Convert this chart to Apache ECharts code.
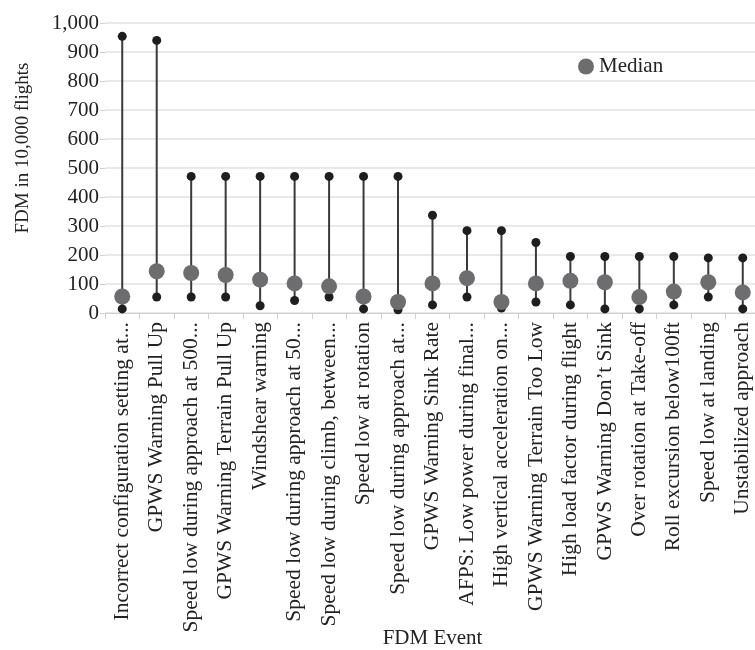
<!DOCTYPE html>
<html>
<head>
<meta charset="utf-8">
<title>FDM events</title>
<script src="https://cdn.jsdelivr.net/npm/echarts@6/dist/echarts.min.js"></script>
<style>
  body { margin: 0; background: #fff; }
  #main { width: 755px; height: 650px; }
</style>
</head>
<body>
<div id="main"></div>
<script>
var events = [
  'Incorrect configuration setting at...',
  'GPWS Warning Pull Up',
  'Speed low during approach at 500...',
  'GPWS Warning Terrain Pull Up',
  'Windshear warning',
  'Speed low during approach at 50...',
  'Speed low during climb, between...',
  'Speed low at rotation',
  'Speed low during approach at...',
  'GPWS Warning Sink Rate',
  'AFPS: Low power during final...',
  'High vertical acceleration on...',
  'GPWS Warning Terrain Too Low',
  'High load factor during flight',
  'GPWS Warning Don\u2019t Sink',
  'Over rotation at Take-off',
  'Roll excursion below100ft',
  'Speed low at landing',
  'Unstabilized approach'
];
var maxVals = [954, 940, 471, 471, 471, 471, 471, 471, 471, 337, 284, 284, 243, 195, 195, 195, 195, 190, 190];
var minVals = [14, 55, 55, 55, 25, 43, 55, 14, 11, 28, 55, 17, 38, 28, 14, 14, 28, 55, 14];
var medians = [57, 144, 138, 131, 115, 102, 92, 57, 38, 102, 120, 38, 102, 111, 106, 55, 74, 106, 71];

var font = 'Liberation Serif';
var chart = echarts.init(document.getElementById('main'));

var rangeData = events.map(function (e, i) { return [i, minVals[i], maxVals[i]]; });

chart.setOption({
  animation: false,
  textStyle: { fontFamily: font },
  grid: { left: 105, right: -5, top: 23, bottom: 337, outerBoundsMode: 'none', containLabel: false },
  legend: {
    data: ['Median'],
    left: 573, top: 51,
    itemWidth: 16, itemHeight: 16, itemGap: 10,
    textStyle: { fontFamily: font, fontSize: 21, color: '#222' }
  },
  xAxis: {
    type: 'category',
    data: events,
    name: 'FDM Event',
    nameLocation: 'middle',
    nameGap: 315,
    nameMoveOverlap: false,
    nameTextStyle: { fontFamily: font, fontSize: 21, color: '#222' },
    axisLine: { show: true, lineStyle: { color: '#d0d0d0' } },
    axisTick: { show: true, length: 6, lineStyle: { color: '#d0d0d0' } },
    axisLabel: { rotate: 90, interval: 0, fontFamily: font, fontSize: 21.5, color: '#222', margin: 9 }
  },
  yAxis: {
    type: 'value',
    min: 0, max: 1000, interval: 100,
    name: 'FDM in 10,000 flights',
    nameLocation: 'middle',
    nameGap: 72,
    nameMoveOverlap: false,
    nameTextStyle: { fontFamily: font, fontSize: 19, color: '#222', padding: [0, 0, 0, 40] },
    axisLine: { show: false },
    axisTick: { show: true, length: 5, lineStyle: { color: '#d0d0d0' } },
    splitLine: { lineStyle: { color: '#e2e2e2', width: 1.5 } },
    axisLabel: {
      fontFamily: font, fontSize: 21, color: '#222', margin: 6,
      formatter: function (v) { return v.toLocaleString('en-US'); }
    }
  },
  series: [
    {
      name: 'Range',
      type: 'custom',
      data: rangeData,
      encode: { x: 0, y: [1, 2] },
      renderItem: function (params, api) {
        var lo = api.coord([api.value(0), api.value(1)]);
        var hi = api.coord([api.value(0), api.value(2)]);
        return {
          type: 'group',
          children: [
            { type: 'line', shape: { x1: lo[0], y1: lo[1], x2: hi[0], y2: hi[1] },
              style: { stroke: '#3a3a3a', lineWidth: 2 } },
            { type: 'circle', shape: { cx: lo[0], cy: lo[1], r: 4.5 }, style: { fill: '#1e1e1e' } },
            { type: 'circle', shape: { cx: hi[0], cy: hi[1], r: 4.5 }, style: { fill: '#1e1e1e' } }
          ]
        };
      }
    },
    {
      name: 'Median',
      type: 'scatter',
      data: medians,
      symbol: 'circle',
      symbolSize: 16,
      itemStyle: { color: '#6d6d70', opacity: 1 },
      z: 5
    }
  ]
});
</script>
</body>
</html>
